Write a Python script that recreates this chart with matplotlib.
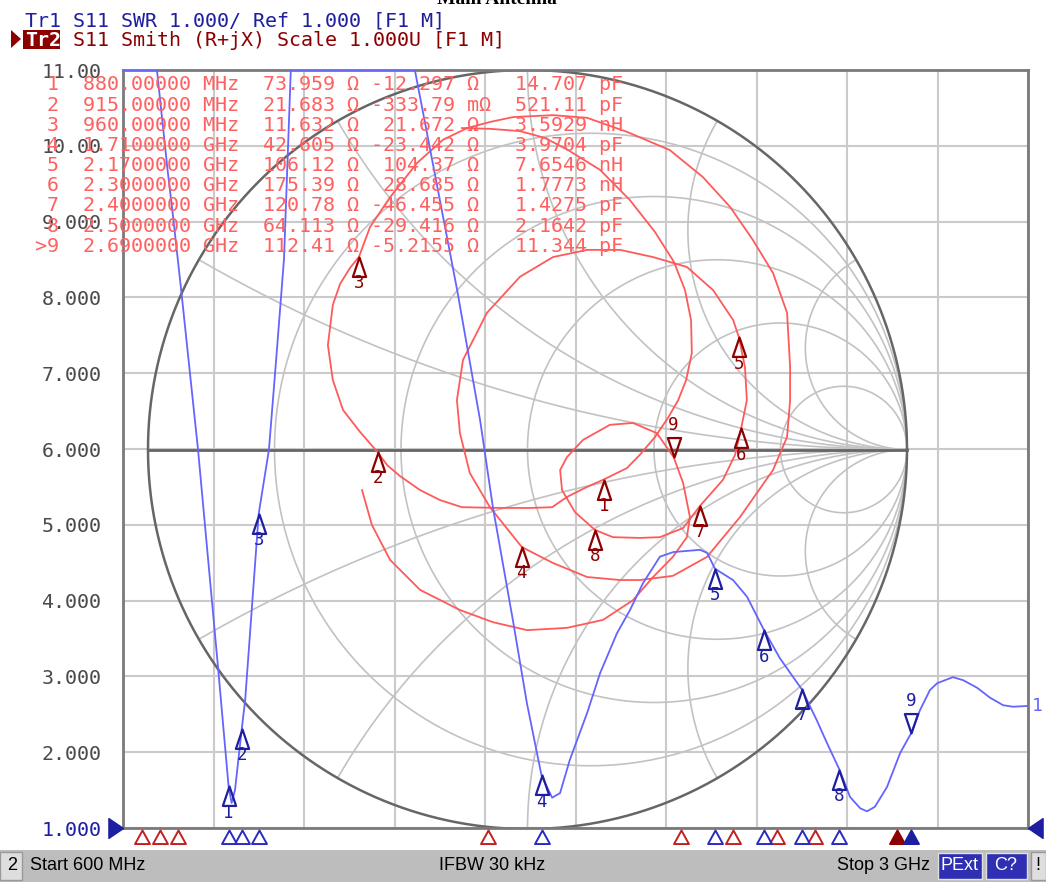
import numpy as np
import matplotlib
matplotlib.use("Agg")
import matplotlib.pyplot as plt
from matplotlib.path import Path
from matplotlib.patches import Rectangle, Polygon
from matplotlib.transforms import blended_transform_factory

W, H, DPI = 1046, 882, 100
MONO = "DejaVu Sans Mono"

# ---------------- data ----------------
freq_start, freq_stop = 600, 3000          # MHz
swr_bottom, swr_top = 1.0, 11.0
swr_tick_values = [11, 10, 9, 8, 7, 6, 5, 4, 3, 2, 1]
swr_tick_labels = ["11.00", "10.00", "9.000", "8.000", "7.000", "6.000",
                   "5.000", "4.000", "3.000", "2.000", "1.000"]

# Tr1: SWR trace (MHz, SWR) (clamped at top 11)
swr_freq = [600, 690, 718, 732, 754, 799, 852, 880, 888, 897, 915, 924, 960, 987,
            1006, 1027, 1045, 1374, 1430, 1486, 1547, 1581, 1634, 1671, 1710, 1738,
            1759, 1785, 1831, 1865, 1910, 1945, 1979, 2024, 2059, 2130, 2149, 2170,
            2218, 2255, 2300, 2342, 2400, 2440, 2467, 2500, 2528, 2555, 2573, 2594,
            2626, 2661, 2690, 2714, 2740, 2759, 2801, 2828, 2865, 2899, 2934, 2960, 3000]
swr_vals = [11.0, 11.0, 9.69, 9.10, 8.11, 5.99, 3.12, 1.55, 1.33, 1.50, 2.31, 2.69, 5.15, 5.99,
            7.17, 8.51, 11.0, 11.0, 9.55, 8.10, 6.38, 5.23, 3.74, 2.65, 1.69, 1.40,
            1.46, 1.90, 2.52, 3.04, 3.57, 3.88, 4.23, 4.58, 4.64, 4.67, 4.63, 4.42,
            4.27, 4.05, 3.61, 3.24, 2.83, 2.42, 2.12, 1.77, 1.41, 1.26, 1.22, 1.28,
            1.54, 1.99, 2.25, 2.56, 2.82, 2.91, 2.99, 2.95, 2.85, 2.72, 2.62, 2.60, 2.61]

gamma_re = [-0.173, -0.099, -0.020, 0.046, 0.107, 0.191, 0.270, 0.336, 0.386, 0.415,
            0.431, 0.433, 0.418, 0.397, 0.370, 0.336, 0.296, 0.262, 0.201, 0.152,
            0.104, 0.065, 0.007, -0.072, -0.173, -0.231, -0.283, -0.336, -0.370, -0.395,
            -0.441, -0.486, -0.513, -0.526, -0.513, -0.494, -0.468, -0.444, -0.415, -0.362,
            -0.291, -0.223, -0.159, -0.099, -0.038, 0.067, 0.157, 0.262, 0.375, 0.462,
            0.534, 0.594, 0.647, 0.684, 0.692, 0.692, 0.684, 0.647, 0.560, 0.473,
            0.383, 0.296, 0.244, 0.157, 0.067, -0.015, -0.099, -0.152, -0.178, -0.186,
            -0.170, -0.107, -0.020, 0.067, 0.157, 0.244, 0.331, 0.420, 0.489, 0.542,
            0.557, 0.573, 0.578, 0.563, 0.547, 0.515, 0.455, 0.410, 0.349, 0.296,
            0.225, 0.178, 0.125, 0.091, 0.086, 0.104, 0.146, 0.217, 0.278, 0.341,
            0.385, 0.410, 0.428, 0.420, 0.383, 0.331, 0.278, 0.199, 0.104, -0.001,
            -0.091, -0.178, -0.283, -0.362, -0.410, -0.436]
gamma_im = [0.847, 0.845, 0.839, 0.821, 0.789, 0.737, 0.657, 0.573, 0.494, 0.420,
            0.341, 0.254, 0.183, 0.130, 0.083, 0.033, -0.014, -0.049, -0.079, -0.101,
            -0.125, -0.152, -0.154, -0.154, -0.152, -0.133, -0.107, -0.070, -0.041, -0.007,
            0.046, 0.104, 0.183, 0.275, 0.381, 0.436, 0.478, 0.508, 0.586, 0.665,
            0.755, 0.816, 0.847, 0.863, 0.876, 0.881, 0.874, 0.837, 0.789, 0.718,
            0.639, 0.552, 0.465, 0.360, 0.217, 0.130, 0.033, -0.054, -0.178, -0.283,
            -0.333, -0.344, -0.344, -0.336, -0.299, -0.257, -0.152, -0.062, 0.043, 0.130,
            0.236, 0.360, 0.455, 0.507, 0.526, 0.526, 0.507, 0.481, 0.420, 0.341,
            0.296, 0.217, 0.130, 0.056, -0.014, -0.080, -0.148, -0.207, -0.231, -0.233,
            -0.231, -0.212, -0.165, -0.107, -0.054, -0.020, 0.025, 0.065, 0.070, 0.043,
            -0.020, -0.088, -0.178, -0.231, -0.283, -0.336, -0.397, -0.449, -0.470, -0.476,
            -0.455, -0.423, -0.370, -0.291, -0.199, -0.107]

# Markers
marker_ids = ["1", "2", "3", "4", "5", "6", "7", "8", "9"]
marker_freq = [880, 915, 960, 1710, 2170, 2300, 2400, 2500, 2690]
marker_R = [73.959, 21.683, 11.632, 42.605, 106.12, 175.39, 120.78, 64.113, 112.41]
marker_X = [-12.297, -0.33379, 21.672, -23.442, 104.37, 28.685, -46.455, -29.416, -5.2155]
marker_freq_txt = ["880.00000 MHz", "915.00000 MHz", "960.00000 MHz", "1.7100000 GHz",
                   "2.1700000 GHz", "2.3000000 GHz", "2.4000000 GHz", "2.5000000 GHz",
                   "2.6900000 GHz"]
marker_re_txt = ["73.959", "21.683", "11.632", "42.605", "106.12", "175.39", "120.78",
                 "64.113", "112.41"]
marker_im_txt = ["-12.297", "-333.79", "21.672", "-23.442", "104.37", "28.685", "-46.455",
                 "-29.416", "-5.2155"]
marker_im_unit = ["Ω", "mΩ", "Ω", "Ω", "Ω", "Ω", "Ω", "Ω", "Ω"]
marker_lc_txt = ["14.707", "521.11", "3.5929", "3.9704", "7.6546", "1.7773", "1.4275",
                 "2.1642", "11.344"]
marker_lc_unit = ["pF", "pF", "nH", "pF", "nH", "nH", "pF", "pF", "pF"]
active_marker = 8   # index of marker 9
z0 = 50.0

# bottom marker position indicators
tr2_indicator_freq = [650, 698, 746, 1568, 2080, 2218, 2334, 2435, 2653]
tr1_indicator_freq = marker_freq

# Smith grid
smith_r_circles = [0.2, 0.5, 1.0, 2.0, 5.0]
smith_x_arcs = [0.268, 0.577, 1.0, 1.732, 3.732]

# ---------------- colours ----------------
BLUE_TR = "#6464ff"
BLUE_DK = "#1e1ea0"
RED_TR = "#ff5a5a"
RED_DK = "#8c0000"
TABLE_C = "#ff6060"
GRID_C = "#cacaca"
SMITH_C = "#c2c2c2"

# ---------------- layout ----------------
Lp, Rp, Tp, Bp = 123, 1028, 70, 828
cx, cy, Rs = 527.5, 449.5, 379.5

fig = plt.figure(figsize=(W / DPI, H / DPI), dpi=DPI)
fig.patch.set_facecolor("white")

ax = fig.add_axes([Lp / W, 1 - Bp / H, (Rp - Lp) / W, (Bp - Tp) / H])
ax.set_xlim(freq_start, freq_stop)
ax.set_ylim(swr_bottom, swr_top)
ax.set_autoscale_on(False)
ax.set_xticks(np.linspace(freq_start, freq_stop, 11))
ax.set_yticks(swr_tick_values)
ax.set_yticklabels(swr_tick_labels, fontfamily=MONO, fontsize=14.4)
ax.tick_params(axis="x", length=0, labelbottom=False)
ax.tick_params(axis="y", length=0, pad=15.5, colors="#4a4a4a")
for lbl in ax.get_yticklabels():
    if lbl.get_text() == "1.000":
        lbl.set_color(BLUE_DK)
ax.set_axisbelow(True)
ax.grid(True, color=GRID_C, lw=1.5)
for s in ax.spines.values():
    s.set_color("#7a7a7a")
    s.set_linewidth(2.0)

# helper axes carrying Smith coordinates (Gamma plane)
axs = fig.add_axes(ax.get_position(), facecolor="none")
axs.set_xlim((Lp - cx) / Rs, (Rp - cx) / Rs)
axs.set_ylim((cy - Bp) / Rs, (cy - Tp) / Rs)
axs.axis("off")
ST = axs.transData

t = np.linspace(0, 2 * np.pi, 3000)
for r in smith_r_circles:
    c, rad = r / (1 + r), 1 / (1 + r)
    ax.plot(c + rad * np.cos(t), rad * np.sin(t), color=SMITH_C, lw=1.2,
            transform=ST, zorder=1)
for xv in smith_x_arcs:
    for sgn in (1, -1):
        rv = 1 / xv
        u = 1 + rv * np.cos(t)
        v = sgn * rv + rv * np.sin(t)
        m = u ** 2 + v ** 2 > 1.0
        u = np.where(m, np.nan, u)
        v = np.where(m, np.nan, v)
        ax.plot(u, v, color=SMITH_C, lw=1.2, transform=ST, zorder=1)
ax.plot(np.cos(t), np.sin(t), color="#666666", lw=1.8, transform=ST, zorder=2)
ax.plot([-1, 1], [0, 0], color="#666666", lw=2.0, transform=ST, zorder=2)

# traces
ax.plot(gamma_re, gamma_im, color=RED_TR, lw=1.3, transform=ST, zorder=3)
ax.plot(swr_freq, swr_vals, color=BLUE_TR, lw=1.3, zorder=4)

# marker shapes (apex at the data point)
codes = [Path.MOVETO, Path.LINETO, Path.LINETO, Path.CLOSEPOLY]
tri_up = Path([(0, 0), (-0.34, -1), (0.34, -1), (0, 0)], codes)
tri_dn = Path([(0, 0), (-0.34, 1), (0.34, 1), (0, 0)], codes)
ind_up = Path([(0, 0), (-0.55, -1), (0.55, -1), (0, 0)], codes)
ref_r = Path([(0, 0), (-1, 0.68), (-1, -0.68), (0, 0)], codes)
ref_l = Path([(0, 0), (1, 0.68), (1, -0.68), (0, 0)], codes)

zm = np.array(marker_R) + 1j * np.array(marker_X)
gm = (zm - z0) / (zm + z0)
swr_m = (1 + np.abs(gm)) / (1 - np.abs(gm))

for i, mid in enumerate(marker_ids):
    up = i != active_marker
    mk = tri_up if up else tri_dn
    dy = -19 if up else 23
    # Smith marker
    ax.plot([gm[i].real], [gm[i].imag], marker=mk, ms=28, mfc="none", mec=RED_DK,
            mew=1.6, transform=ST, zorder=6, linestyle="none")
    ax.annotate(mid, (gm[i].real, gm[i].imag), xycoords=ST, xytext=(0, dy),
                textcoords="offset points", ha="center", va="center", color=RED_DK,
                fontfamily=MONO, fontsize=12.5, zorder=6)
    # SWR marker
    ax.plot([marker_freq[i]], [swr_m[i]], marker=mk, ms=28, mfc="none", mec=BLUE_DK,
            mew=1.6, zorder=6, linestyle="none")
    ax.annotate(mid, (marker_freq[i], swr_m[i]), xytext=(0, dy),
                textcoords="offset points", ha="center", va="center", color=BLUE_DK,
                fontfamily=MONO, fontsize=12.5, zorder=6)

# bottom indicators
bt = blended_transform_factory(ax.transData, ax.transAxes)
for i, f in enumerate(tr2_indicator_freq):
    act = i == active_marker
    ax.plot([f], [-0.003], marker=ind_up, ms=19.5, transform=bt, clip_on=False,
            mfc=RED_DK if act else "none", mec="#c02020" if not act else RED_DK,
            mew=1.4, linestyle="none", zorder=7)
for i, f in enumerate(tr1_indicator_freq):
    act = i == active_marker
    ax.plot([f], [-0.003], marker=ind_up, ms=19.5, transform=bt, clip_on=False,
            mfc=BLUE_DK if act else "none", mec="#2a2ac0" if not act else BLUE_DK,
            mew=1.4, linestyle="none", zorder=7)

# reference-level triangles
ax.plot([freq_start], [swr_bottom], marker=ref_r, ms=21, color=BLUE_DK, clip_on=False,
        linestyle="none", zorder=7)
ax.plot([freq_stop], [swr_bottom], marker=ref_l, ms=21, color=BLUE_DK, clip_on=False,
        linestyle="none", zorder=7)
ax.annotate("1", (swr_freq[-1], swr_vals[-1]), xytext=(3, 0), textcoords="offset points",
            ha="left", va="center", color=BLUE_TR, fontfamily=MONO, fontsize=13,
            annotation_clip=False)


# ---------------- texts ----------------
def ftext(x, y, s, **kw):
    return fig.text(x / W, 1 - y / H, s, **kw)


CW = 12.04
ftext(497, 4, "Main Antenna", fontfamily="Liberation Serif", fontweight="bold",
      fontsize=14, ha="center", va="baseline")
ftext(25, 26.5, "Tr1 S11 SWR 1.000/ Ref 1.000 [F1 M]", fontfamily=MONO, fontsize=14.4,
      color=BLUE_DK, va="baseline")
fig.patches.append(Rectangle((23 / W, 1 - 48.5 / H), 37 / W, 18.5 / H,
                             transform=fig.transFigure, facecolor=RED_DK,
                             edgecolor="none"))
fig.patches.append(Polygon([(11 / W, 1 - 30 / H), (21 / W, 1 - 39 / H), (11 / W, 1 - 48 / H)],
                           closed=True, transform=fig.transFigure, facecolor=RED_DK,
                           edgecolor="none"))
ftext(25, 46.5, "Tr2", fontfamily=MONO, fontsize=14.4, color="white", va="baseline",
      fontweight="bold")
ftext(25 + 3 * CW, 46.5, " S11 Smith (R+jX) Scale 1.000U [F1 M]", fontfamily=MONO,
      fontsize=14.4, color=RED_DK, va="baseline")

for i in range(len(marker_ids)):
    mid = (">" + marker_ids[i]) if i == active_marker else marker_ids[i]
    row = (f"{mid:>2}  {marker_freq_txt[i]}  {marker_re_txt[i]:>6} Ω "
           f"{marker_im_txt[i]:>7} {marker_im_unit[i]:<2}  {marker_lc_txt[i]:>6} "
           f"{marker_lc_unit[i]}")
    ftext(34.7, 90.5 + 20.15 * i, row, fontfamily=MONO, fontsize=14.4, color=TABLE_C,
          va="baseline", zorder=10)

# status bar
fig.patches.append(Rectangle((0, 0), 1, 32 / H, transform=fig.transFigure,
                             facecolor="#bdbdbd", edgecolor="none"))
fig.patches.append(Rectangle((0, 2 / H), 22 / W, 28 / H, transform=fig.transFigure,
                             facecolor="#dedede", edgecolor="#9a9a9a", lw=1))
fig.patches.append(Rectangle((938 / W, 3 / H), 44 / W, 26 / H, transform=fig.transFigure,
                             facecolor="#2f2fb4", edgecolor="#e0e0e0", lw=1))
fig.patches.append(Rectangle((986 / W, 3 / H), 41 / W, 26 / H, transform=fig.transFigure,
                             facecolor="#2f2fb4", edgecolor="#e0e0e0", lw=1))
fig.patches.append(Rectangle((1031 / W, 2 / H), 15 / W, 28 / H, transform=fig.transFigure,
                             facecolor="#dedede", edgecolor="#9a9a9a", lw=1))
SB = dict(fontfamily="Liberation Sans", fontsize=13, va="center")
ftext(7, 866, "2", color="black", **SB)
ftext(30, 866, "Start 600 MHz", color="black", **SB)
ftext(492, 866, "IFBW 30 kHz", color="black", ha="center", **SB)
ftext(930, 866, "Stop 3 GHz", color="black", ha="right", **SB)
ftext(960, 866, "PExt", color="white", ha="center", **SB)
ftext(1006, 866, "C?", color="white", ha="center", **SB)
ftext(1038, 866, "!", color="black", ha="center", **SB)

fig.savefig("out.png", dpi=DPI, facecolor="white")
